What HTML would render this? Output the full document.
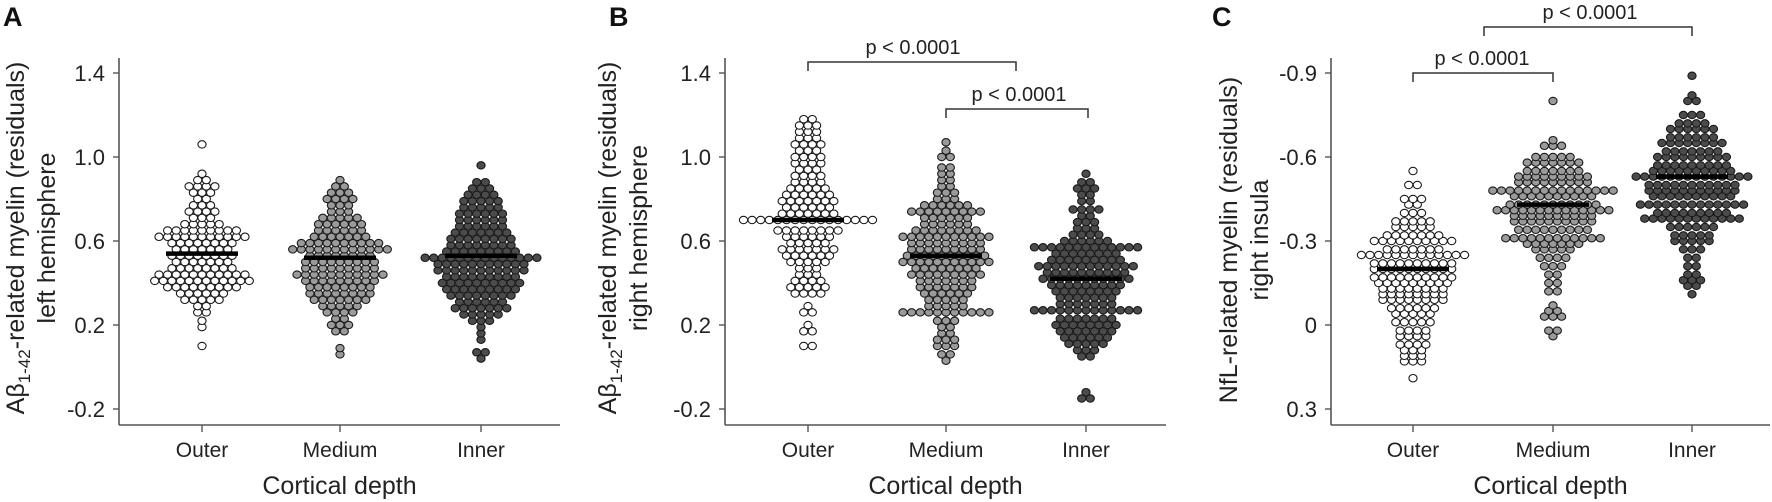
<!DOCTYPE html>
<html><head><meta charset="utf-8"><style>
body{margin:0;background:#fff}
svg{display:block;font-family:"Liberation Sans",Arial,sans-serif}
</style></head><body>
<svg id="fig" width="1772" height="502" viewBox="0 0 1772 502" xmlns="http://www.w3.org/2000/svg"></svg>
<script>
// ----- Data (row value bins and dot counts per bin) -----
const categories = ["Outer","Medium","Inner"];
const ticksAB = [1.4,1.0,0.6,0.2,-0.2];
const tickLabelsAB = ["1.4","1.0","0.6","0.2","-0.2"];
const ticksC = [-0.9,-0.6,-0.3,0,0.3];
const tickLabelsC = ["-0.9","-0.6","-0.3","0","0.3"];

const aOuterVals = [0.10,0.19,0.22,0.26,0.29,0.32,0.35,0.38,0.41,0.44,0.47,0.50,0.53,0.56,0.59,0.62,0.65,0.68,0.71,0.74,0.77,0.80,0.83,0.86,0.89,0.92,1.06];
const aOuterCounts = [1,1,1,2,2,5,6,9,12,11,8,7,8,7,8,11,9,5,3,4,3,2,3,4,2,1,1];
const aMediumVals = [0.06,0.09,0.17,0.20,0.23,0.26,0.29,0.32,0.35,0.38,0.41,0.44,0.47,0.50,0.53,0.56,0.59,0.62,0.65,0.68,0.71,0.74,0.77,0.80,0.83,0.86,0.89];
const aMediumCounts = [1,1,2,3,2,4,5,7,8,8,9,11,9,9,8,12,10,7,6,6,5,3,3,4,3,2,1];
const aInnerVals = [0.04,0.07,0.13,0.16,0.19,0.22,0.25,0.28,0.31,0.34,0.37,0.40,0.43,0.46,0.49,0.52,0.55,0.58,0.61,0.64,0.67,0.70,0.73,0.76,0.79,0.82,0.85,0.88,0.96];
const aInnerCounts = [1,2,1,1,1,3,5,7,6,8,9,10,9,11,11,14,9,8,8,7,6,6,6,5,5,4,3,2,1];
const aMedians = [0.54,0.52,0.53];

const bOuterVals = [0.10,0.17,0.20,0.26,0.29,0.35,0.38,0.41,0.44,0.47,0.50,0.53,0.56,0.59,0.62,0.65,0.70,0.73,0.76,0.79,0.82,0.85,0.88,0.91,0.94,0.97,1.00,1.03,1.06,1.09,1.12,1.15,1.18];
const bOuterCounts = [2,2,1,2,1,4,5,4,3,3,5,6,7,5,6,8,16,7,6,7,6,5,4,4,3,4,4,3,4,3,3,3,2];
const bMediumVals = [0.03,0.06,0.10,0.13,0.16,0.19,0.22,0.26,0.29,0.32,0.35,0.38,0.41,0.44,0.47,0.50,0.53,0.56,0.59,0.62,0.65,0.68,0.71,0.74,0.77,0.80,0.83,0.86,0.89,0.92,0.95,1.00,1.03,1.07];
const bMediumCounts = [1,2,3,3,2,2,3,11,5,5,6,7,7,9,8,11,10,9,9,11,8,6,6,9,6,3,3,2,2,2,2,2,1,1];
const bInnerVals = [-0.15,-0.12,0.05,0.08,0.11,0.14,0.17,0.20,0.23,0.27,0.30,0.33,0.36,0.39,0.42,0.45,0.48,0.51,0.54,0.57,0.60,0.63,0.66,0.69,0.72,0.75,0.79,0.82,0.85,0.88,0.92];
const bInnerCounts = [2,1,2,3,5,6,7,8,7,13,7,7,8,9,11,10,12,9,8,13,6,4,3,3,2,4,2,2,3,2,1];
const bMedians = [0.70,0.53,0.42];

const cOuterVals = [0.19,0.13,0.11,0.09,0.07,0.04,0.02,-0.01,-0.04,-0.06,-0.09,-0.11,-0.13,-0.15,-0.17,-0.20,-0.22,-0.25,-0.27,-0.30,-0.32,-0.35,-0.37,-0.40,-0.43,-0.45,-0.50,-0.55];
const cOuterCounts = [1,3,3,3,4,4,4,5,5,6,8,8,8,9,10,10,10,13,7,10,7,5,5,3,2,3,2,1];
const cMediumVals = [0.04,0.02,-0.03,-0.05,-0.07,-0.12,-0.15,-0.18,-0.21,-0.24,-0.27,-0.29,-0.31,-0.34,-0.37,-0.39,-0.41,-0.43,-0.46,-0.48,-0.51,-0.53,-0.55,-0.58,-0.60,-0.64,-0.66,-0.80];
const cMediumCounts = [1,2,3,2,1,2,2,2,3,4,5,7,12,9,10,10,14,11,10,15,9,9,7,7,5,3,1,1];
const cInnerVals = [-0.11,-0.14,-0.16,-0.18,-0.21,-0.24,-0.27,-0.30,-0.32,-0.35,-0.38,-0.40,-0.43,-0.46,-0.48,-0.50,-0.53,-0.55,-0.57,-0.60,-0.62,-0.65,-0.67,-0.70,-0.72,-0.75,-0.80,-0.82,-0.89];
const cInnerCounts = [1,2,3,2,2,2,3,5,5,6,12,9,13,10,11,11,14,10,9,9,7,8,6,6,4,3,2,1,1];
const cMedians = [-0.20,-0.43,-0.53];

// ----- Drawing -----
const NS="http://www.w3.org/2000/svg";
const svg=document.getElementById('fig');
function mk(tag,attrs,parent){const e=document.createElementNS(NS,tag);for(const k in attrs)e.setAttribute(k,attrs[k]);(parent||svg).appendChild(e);return e;}
const fills=["#ffffff","#9a9a9a","#4b4b4b"];

function panel(cfg){
  const g=mk('g',{});
  
  
  const y=v=>cfg.y0+(v-cfg.v0)*(cfg.y1-cfg.y0)/(cfg.v1-cfg.v0);
  const x=i=>cfg.cats[i];
  const ya=mk('line',{x1:cfg.ax,y1:58,x2:cfg.ax,y2:425,stroke:'#555','stroke-width':1.6},g);
  
  
  const xa=mk('line',{x1:cfg.ax,y1:425,x2:cfg.right,y2:425,stroke:'#555','stroke-width':1.6},g);
  
  
  cfg.ticks.forEach((t,i)=>{
    mk('line',{x1:cfg.ax-6,y1:y(t),x2:cfg.ax,y2:y(t),stroke:'#555','stroke-width':1.4},g);
    const tx=mk('text',{x:cfg.ax-14,y:y(t)+8,'text-anchor':'end','font-size':22,fill:'#222'},g);
    tx.textContent=cfg.tickLabels[i];
    
    
  });
  categories.forEach((c,i)=>{
    mk('line',{x1:x(i),y1:425,x2:x(i),y2:432,stroke:'#555','stroke-width':1.4},g);
    const tx=mk('text',{x:x(i),y:457,'text-anchor':'middle','font-size':21,fill:'#222'},g);
    tx.textContent=c;
    
    
  });
  const xt=mk('text',{x:(cfg.ax+cfg.right)/2,y:494,'text-anchor':'middle','font-size':25,fill:'#222'},g);
  xt.textContent='Cortical depth';
  
  
  const pl=mk('text',{x:cfg.letterX,y:26,'font-size':27,'font-weight':'bold',fill:'#111'},g);
  pl.textContent=cfg.letter;
  
  
  const yt=mk('text',{transform:`translate(${cfg.ylx},${cfg.yly}) rotate(-90)`,'text-anchor':'middle','font-size':25,fill:'#222'},g);
  
  
  cfg.ytitle(yt);
  const sp=8.6;
  cfg.groups.forEach((grp,gi)=>{
    const gg=mk('g',{},g);
    
    
    grp.vals.forEach((v,ri)=>{
      const n=grp.counts[ri];
      for(let k=0;k<n;k++){
        const cx=x(gi)+(k-(n-1)/2)*sp;
        const d=mk('ellipse',{cx:cx,cy:y(v),rx:4.1,ry:3.7,fill:fills[gi],stroke:'#1a1a1a','stroke-width':1.1},gg);
        
        
      }
    });
    const m=mk('line',{x1:x(gi)-36,y1:y(cfg.medians[gi]),x2:x(gi)+36,y2:y(cfg.medians[gi]),stroke:'#000','stroke-width':4.5},g);
    
    
  });
  cfg.brackets.forEach(b=>{
    const p=mk('path',{d:`M${b.x1},${b.yb+9} V${b.yb} H${b.x2} V${b.yb+9}`,fill:'none',stroke:'#333','stroke-width':1.5},g);
    
    
    const t=mk('text',{x:b.tx,y:b.yb-8,'text-anchor':'middle','font-size':20,fill:'#222'},g);
    t.textContent='p < 0.0001';
    
    
  });
}
function abTitle(second){
  return function(t){
    const a=mk('tspan',{x:0,dy:-9},t);a.textContent='Aβ';
    const s=mk('tspan',{'font-size':17,dy:6},t);s.textContent='1-42';
    const r=mk('tspan',{dy:-6},t);r.textContent='-related myelin (residuals)';
    const l2=mk('tspan',{x:0,dy:31},t);l2.textContent=second;
  };
}
panel({name:'panel-a',letter:'A',letterX:3,ax:119,right:560,cats:[202,340,481],
  y0:73,v0:1.4,y1:409,v1:-0.2,ticks:ticksAB,tickLabels:tickLabelsAB,ylx:33,yly:238,
  ytitle:abTitle('left hemisphere'),
  groups:[{vals:aOuterVals,counts:aOuterCounts},{vals:aMediumVals,counts:aMediumCounts},{vals:aInnerVals,counts:aInnerCounts}],
  medians:aMedians,brackets:[]});
panel({name:'panel-b',letter:'B',letterX:609,ax:725,right:1166,cats:[808,946,1086],
  y0:73,v0:1.4,y1:409,v1:-0.2,ticks:ticksAB,tickLabels:tickLabelsAB,ylx:625,yly:238,
  ytitle:abTitle('right hemisphere'),
  groups:[{vals:bOuterVals,counts:bOuterCounts},{vals:bMediumVals,counts:bMediumCounts},{vals:bInnerVals,counts:bInnerCounts}],
  medians:bMedians,brackets:[{x1:808,x2:1016,yb:62,tx:913},{x1:946,x2:1088,yb:109,tx:1019}]});
panel({name:'panel-c',letter:'C',letterX:1212,ax:1331,right:1770,cats:[1413,1553,1692],
  y0:73,v0:-0.9,y1:409,v1:0.3,ticks:ticksC,tickLabels:tickLabelsC,ylx:1243,yly:240,
  ytitle:function(t){const a=mk('tspan',{x:0,dy:-6},t);a.textContent='NfL-related myelin (residuals)';const b=mk('tspan',{x:0,dy:31},t);b.textContent='right insula';},
  groups:[{vals:cOuterVals,counts:cOuterCounts},{vals:cMediumVals,counts:cMediumCounts},{vals:cInnerVals,counts:cInnerCounts}],
  medians:cMedians,brackets:[{x1:1413,x2:1553,yb:73,tx:1482},{x1:1484,x2:1692,yb:27,tx:1590}]});
</script>
</body></html>
